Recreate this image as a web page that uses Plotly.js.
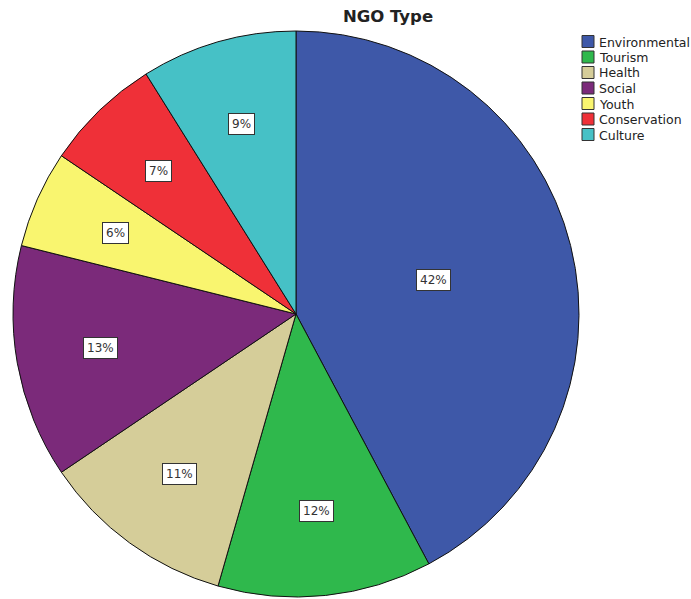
<!DOCTYPE html>
<html>
<head>
<meta charset="utf-8">
<script src="https://cdn.plot.ly/plotly-3.0.1.min.js"></script>
<style>
  html, body { margin: 0; padding: 0; background: #fff; }
  #chart { width: 691px; height: 599px; }
</style>
</head>
<body>
<div id="chart"></div>
<script>
// NGO counts by type
const categories = ['Environmental', 'Tourism', 'Health', 'Social', 'Youth', 'Conservation', 'Culture'];
const counts = [38, 11, 10, 12, 5, 6, 8];
const sliceColors = ['#3e58a8', '#2fb84c', '#d5cd99', '#7b2a7a', '#f9f56f', '#ef3038', '#46c1c6'];

const W = 691, H = 599;
const M = { l: 13, r: 112, t: 31, b: 2 };
const plotW = W - M.l - M.r;
const plotH = H - M.t - M.b;
// pixel -> paper helpers for placing the key beside the pie
const px = v => (v - M.l) / plotW;
const py = v => (H - M.b - v) / plotH;

const total = counts.reduce((a, b) => a + b, 0);

// Boxed percentage labels placed at each slice's mid-angle (clockwise from 12 o'clock)
const annotations = [];
let cum = 0;
counts.forEach((v, i) => {
  const frac = v / total;
  const mid = (cum + frac / 2) * 2 * Math.PI;
  cum += frac;
  const r = frac > 0.25 ? 0.5 : 0.7;
  annotations.push({
    xref: 'paper', yref: 'paper',
    x: 0.5 + 0.5 * r * Math.sin(mid),
    y: 0.5 + 0.5 * r * Math.cos(mid),
    xanchor: 'center', yanchor: 'middle',
    text: Math.round(frac * 100) + '%',
    showarrow: false,
    font: { family: 'DejaVu Sans', size: 12, color: '#333' },
    bgcolor: '#ffffff',
    bordercolor: '#333333',
    borderwidth: 1,
    borderpad: 3
  });
});

// Compact key: swatch + name per category
const shapes = [];
const keyTop = 41.5, keyStep = 15.5;
categories.forEach((name, i) => {
  const cy = keyTop + i * keyStep;
  shapes.push({
    type: 'rect', xref: 'paper', yref: 'paper',
    x0: px(582), x1: px(594), y0: py(cy - 6), y1: py(cy + 6),
    fillcolor: sliceColors[i],
    line: { color: '#333', width: 1 }
  });
  annotations.push({
    xref: 'paper', yref: 'paper',
    x: px(597), y: py(cy + 0.5),
    xanchor: 'left', yanchor: 'middle',
    text: name,
    showarrow: false,
    font: { family: 'DejaVu Sans', size: 12.5, color: '#222' }
  });
});

const data = [{
  type: 'pie',
  labels: categories,
  values: counts,
  sort: false,
  direction: 'clockwise',
  rotation: 0,
  marker: { colors: sliceColors, line: { color: '#111', width: 1 } },
  textinfo: 'none',
  hoverinfo: 'label+percent',
  showlegend: false,
  domain: { x: [0, 1], y: [0, 1] }
}];

const layout = {
  width: W,
  height: H,
  margin: M,
  paper_bgcolor: '#ffffff',
  title: {
    text: '<b>NGO Type</b>',
    font: { family: 'DejaVu Sans', size: 16.5, color: '#222' },
    xref: 'container', yref: 'container',
    x: 0.5615, y: 0.973, xanchor: 'center', yanchor: 'middle'
  },
  showlegend: false,
  shapes: shapes,
  annotations: annotations
};

Plotly.newPlot('chart', data, layout, { displayModeBar: false, staticPlot: true });
</script>
</body>
</html>
